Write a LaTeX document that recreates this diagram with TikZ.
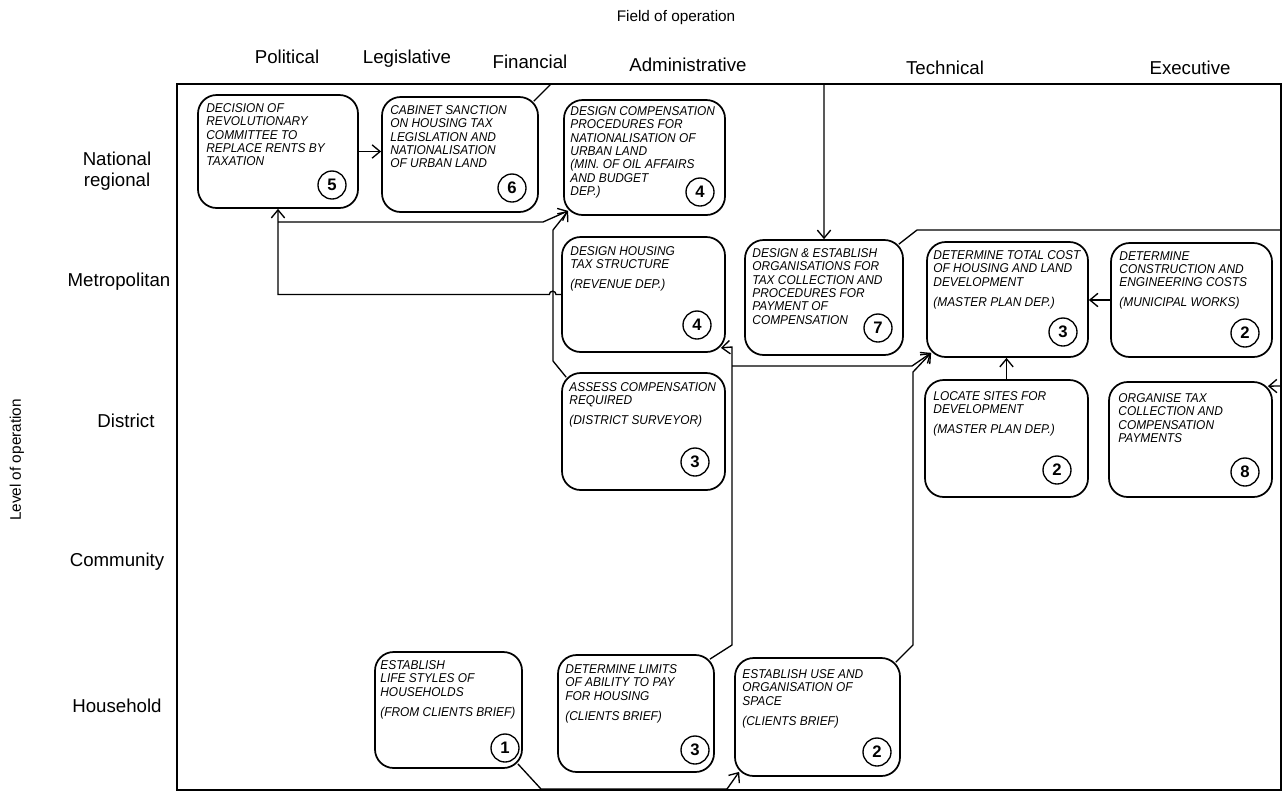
\documentclass[tikz,border=0pt]{standalone}
\usepackage{fontspec}
\setmainfont{Liberation Sans}
\newfontfamily\handfont{Liberation Sans}[FakeStretch=0.93]
\usetikzlibrary{arrows.meta,fit}
\begin{document}
\begin{tikzpicture}[x=0.75pt,y=-0.75pt,
  tbox/.style={draw, line width=1.3pt, rounded corners=14pt, inner sep=0pt},
  txt/.style={anchor=north west, align=left, inner sep=0pt, font=\handfont\itshape\fontsize{9.6}{10}\selectfont},
  num/.style={draw, circle, line width=1pt, minimum size=21pt, inner sep=0pt, font=\bfseries\fontsize{12.5}{12.5}\selectfont},
  conn/.style={line width=1pt},
  arr/.style={conn, -{Straight Barb[length=6pt,width=10pt]}},
  lab/.style={inner sep=0pt, font=\fontsize{14}{16}\selectfont},
  smalllab/.style={inner sep=0pt, font=\fontsize{11.5}{13}\selectfont}]
\fill[white] (0,0) rectangle (1285,797);
\path[use as bounding box] (0,0) rectangle (1285,797);

% headings
\node[smalllab] (field) at (676,18) {Field of operation};
\node[lab] (cPol) at (287,57) {Political};
\node[lab] (cLeg) at (407,59) {Legislative};
\node[lab] (cFin) at (530,62) {Financial};
\node[lab] (cAdm) at (688,65) {Administrative};
\node[lab] (cTec) at (945,68) {Technical};
\node[lab] (cExe) at (1190,68) {Executive};

\node[lab, align=center] (rNat) at (117,171) {National\\regional};
\node[lab] (rMet) at (119,282) {Metropolitan};
\node[lab] (rDis) at (126,421) {District};
\node[lab] (rCom) at (117,562) {Community};
\node[lab] (rHou) at (117,706) {Household};
\node[smalllab, rotate=90] (level) at (17,460) {Level of operation};

% frame
\node[draw, line width=1.2pt, inner sep=0pt, fit={(177,84) (1281,790)}] (frame) {};

% boxes
\node[tbox, fit={(198,95) (358,208)}] (b5) {};
\node[txt] (t5) at ([shift={(9,9)}]b5.north west) {DECISION OF\\REVOLUTIONARY\\COMMITTEE TO\\REPLACE RENTS BY\\TAXATION};
\node[num] (n5) at (332,185) {5};

\node[tbox, fit={(382,97) (538,212)}] (b6) {};
\node[txt] (t6) at ([shift={(9,9)}]b6.north west) {CABINET SANCTION\\ON HOUSING TAX\\LEGISLATION AND\\NATIONALISATION\\OF URBAN LAND};
\node[num] (n6) at (512,188) {6};

\node[tbox, fit={(564,100) (725,215)}] (b4a) {};
\node[txt] (t4a) at ([shift={(7,7)}]b4a.north west) {DESIGN COMPENSATION\\PROCEDURES FOR\\NATIONALISATION OF\\URBAN LAND\\(MIN. OF OIL AFFAIRS\\AND BUDGET\\DEP.)};
\node[num] (n4a) at (700,192) {4};

\node[tbox, fit={(562,237) (725,352)}] (b4b) {};
\node[txt] (t4b) at ([shift={(9,10)}]b4b.north west) {DESIGN HOUSING\\TAX STRUCTURE\\[5pt](REVENUE DEP.)};
\node[num] (n4b) at (697,325) {4};

\node[tbox, fit={(562,373) (725,490)}] (b3a) {};
\node[txt] (t3a) at ([shift={(8,10)}]b3a.north west) {ASSESS COMPENSATION\\REQUIRED\\[5pt](DISTRICT SURVEYOR)};
\node[num] (n3a) at (695,462) {3};

\node[tbox, fit={(745,240) (903,355)}] (b7) {};
\node[txt] (t7) at ([shift={(8,9)}]b7.north west) {DESIGN \& ESTABLISH\\ORGANISATIONS FOR\\TAX COLLECTION AND\\PROCEDURES FOR\\PAYMENT OF\\COMPENSATION};
\node[num] (n7) at (878,328) {7};

\node[tbox, fit={(927,242) (1088,357)}] (b3b) {};
\node[txt] (t3b) at ([shift={(7,9)}]b3b.north west) {DETERMINE TOTAL COST\\OF HOUSING AND LAND\\DEVELOPMENT\\[5pt](MASTER PLAN DEP.)};
\node[num] (n3b) at (1063,332) {3};

\node[tbox, fit={(1111,243) (1272,357)}] (b2a) {};
\node[txt] (t2a) at ([shift={(9,9)}]b2a.north west) {DETERMINE\\CONSTRUCTION AND\\ENGINEERING COSTS\\[5pt](MUNICIPAL WORKS)};
\node[num] (n2a) at (1245,333) {2};

\node[tbox, fit={(925,380) (1088,497)}] (b2b) {};
\node[txt] (t2b) at ([shift={(9,12)}]b2b.north west) {LOCATE SITES FOR\\DEVELOPMENT\\[5pt](MASTER PLAN DEP.)};
\node[num] (n2b) at (1057,470) {2};

\node[tbox, fit={(1109,382) (1272,497)}] (b8) {};
\node[txt] (t8) at ([shift={(10,12)}]b8.north west) {ORGANISE TAX\\COLLECTION AND\\COMPENSATION\\PAYMENTS};
\node[num] (n8) at (1245,472) {8};

\node[tbox, fit={(375,652) (522,768)}] (b1) {};
\node[txt] (t1) at ([shift={(6,9)}]b1.north west) {ESTABLISH\\LIFE STYLES OF\\HOUSEHOLDS\\[5pt](FROM CLIENTS BRIEF)};
\node[num] (n1) at (505,748) {1};

\node[tbox, fit={(558,655) (714,772)}] (b3c) {};
\node[txt] (t3c) at ([shift={(8,10)}]b3c.north west) {DETERMINE LIMITS\\OF ABILITY TO PAY\\FOR HOUSING\\[5pt](CLIENTS BRIEF)};
\node[num] (n3c) at (695,750) {3};

\node[tbox, fit={(735,658) (900,776)}] (b2c) {};
\node[txt] (t2c) at ([shift={(8,12)}]b2c.north west) {ESTABLISH USE AND\\ORGANISATION OF\\SPACE\\[5pt](CLIENTS BRIEF)};
\node[num] (n2c) at (877,752) {2};

% connectors
\coordinate (j1) at (278,222);
\coordinate (j2) at (732,366);

\draw[arr] (b5.east) -- (b5.east -| b6.west);
\draw[arr] ([shift={(-5,5)}]b6.north east) -- (551,84) -- (824,84) -- (b7.north);
\draw[arr] (b4b.west) -- (556,294.5) arc[start angle=0, end angle=180, radius=2.5pt] -- (278,294.5) -- (b5.south);
\draw[arr] (j1) -- (543,222) -- ([shift={(5,-5)}]b4a.south west);
\draw[arr] ([shift={(5,5)}]b3a.north west) -- (553,361) -- (553,230) -- ([shift={(5,-5)}]b4a.south west);
\draw[arr] ([shift={(-5,5)}]b3c.north east) -- (732,645) -- (732,347) -- ([shift={(-5,-5)}]b4b.south east);
\draw[arr] (j2) -- (912,366) -- ([shift={(5,-5)}]b3b.south west);
\draw[arr] ([shift={(-5,5)}]b2c.north east) -- (913,645) -- (913,372) -- ([shift={(5,-5)}]b3b.south west);
\draw[arr] ([shift={(-5,-5)}]b1.south east) -- (541,789) -- (727,789) -- ([shift={(5,-5)}]b2c.south west);
\draw[arr] (b2a.west) -- (b2a.west -| b3b.east);
\draw[arr] (b2b.north) -- (b2b.north |- b3b.south);
\draw[arr] ([shift={(-5,5)}]b7.north east) -- (917,230) -- (1281,230) -- (1281,386) -- ([shift={(-5,5)}]b8.north east);
\end{tikzpicture}
\end{document}
